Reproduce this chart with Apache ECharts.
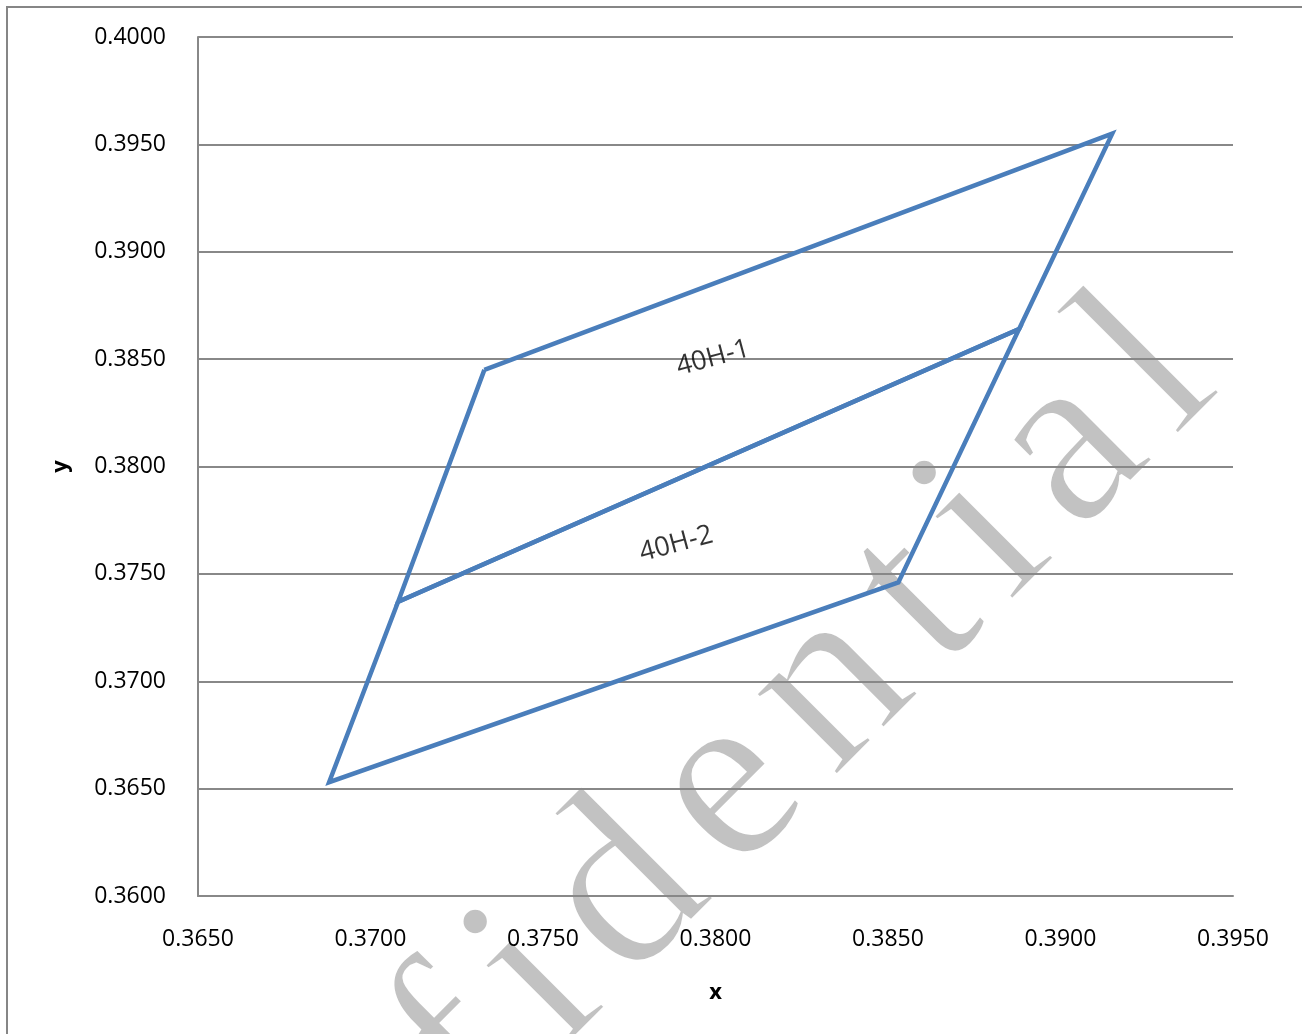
<!DOCTYPE html>
<html><head><meta charset="utf-8">
<script src="https://cdn.jsdelivr.net/npm/echarts@6/dist/echarts.min.js"></script>
<style>html,body{margin:0;padding:0;background:#fff}#c{width:1302px;height:1034px}</style>
</head><body><div id="c"></div>
<script>
const series1Name = '40H-1';
const series1X = [0.3733, 0.3915, 0.3888, 0.3708, 0.3733];
const series1Y = [0.3845, 0.3955, 0.3864, 0.3737, 0.3845];
const series2Name = '40H-2';
const series2X = [0.3708, 0.3888, 0.3853, 0.3688, 0.3708];
const series2Y = [0.3737, 0.3864, 0.3746, 0.3653, 0.3737];
const labelNames = ['40H-1', '40H-2'];
const labelX = [0.37993, 0.37886];
const labelY = [0.38505, 0.37639];
const xTicks = [0.3650, 0.3700, 0.3750, 0.3800, 0.3850, 0.3900, 0.3950];
const yTicks = [0.3600, 0.3650, 0.3700, 0.3750, 0.3800, 0.3850, 0.3900, 0.3950, 0.4000];
const watermark = 'Confidential';

const chart = echarts.init(document.getElementById('c'), null, {renderer: 'canvas'});
const pair = (xs, ys) => xs.map((x, i) => [x, ys[i]]);
const FONT = 'Open Sans';
const lineColor = '#4a7ebb';
const gridColor = '#888888';

// watermark layout: letters spaced along a 45° baseline
const WM_SIZE = 250, WM_SPACING = 27;
const WM_FONT = WM_SIZE + 'px "Liberation Serif"';
const mctx = document.createElement('canvas').getContext('2d');
mctx.font = WM_FONT;
const offs = [];
let acc = 0;
for (const ch of watermark) { offs.push(acc); acc += mctx.measureText(ch).width + WM_SPACING; }
const anchor = offs[4];
const letterY = -0.305 * WM_SIZE;
const fillLetters = [...watermark].map((ch, k) => ({
  type: 'text', z: 1, x: offs[k] - anchor, y: letterY,
  style: {text: ch, font: WM_FONT, fill: '#c2c2c2', align: 'left', verticalAlign: 'middle'}
}));
const erodeLetters = [...watermark].map((ch, k) => ({
  type: 'text', z: 2, x: offs[k] - anchor, y: letterY,
  style: {text: ch, font: WM_FONT, fill: 'none', stroke: '#ffffff', lineWidth: 3,
          align: 'left', verticalAlign: 'middle'}
}));

chart.setOption({
  animation: false,
  backgroundColor: '#ffffff',
  grid: {left: 198, top: 37, right: 69, bottom: 138, containLabel: false},
  xAxis: {
    type: 'value', min: xTicks[0], max: xTicks[xTicks.length - 1], interval: 0.005, z: 5,
    name: 'x', nameLocation: 'middle', nameGap: 86,
    nameTextStyle: {fontFamily: FONT, fontSize: 22, fontWeight: 'bold', color: '#000'},
    axisLine: {show: true, lineStyle: {color: gridColor, width: 2}},
    axisTick: {show: false},
    splitLine: {show: false},
    axisLabel: {fontFamily: FONT, fontSize: 23, color: '#000', margin: 32, formatter: v => v.toFixed(4)}
  },
  yAxis: {
    type: 'value', min: yTicks[0], max: yTicks[yTicks.length - 1], interval: 0.005, z: 5,
    name: 'y', nameLocation: 'middle', nameGap: 126, nameRotate: 90,
    nameTextStyle: {fontFamily: FONT, fontSize: 22, fontWeight: 'bold', color: '#000'},
    axisLine: {show: true, lineStyle: {color: gridColor, width: 2}},
    axisTick: {show: false},
    splitLine: {show: true, lineStyle: {color: gridColor, width: 2}},
    axisLabel: {fontFamily: FONT, fontSize: 23, color: '#000', margin: 32, formatter: v => v.toFixed(4)}
  },
  graphic: {
    z: 1,
    elements: [
      {type: 'rect', z: 1, shape: {x: 7, y: 7, width: 1400, height: 1100},
       style: {fill: 'none', stroke: '#868686', lineWidth: 2}},
      {type: 'group', x: 567, y: 1060, rotation: Math.PI / 4,
       children: fillLetters.concat(erodeLetters)}
    ]
  },
  series: [
    {name: series1Name, type: 'line', z: 6, data: pair(series1X, series1Y), symbol: 'none',
     lineStyle: {color: lineColor, width: 4.5, join: 'miter'}},
    {name: series2Name, type: 'line', z: 6, data: pair(series2X, series2Y), symbol: 'none',
     lineStyle: {color: lineColor, width: 4.5, join: 'miter'}},
    {type: 'scatter', z: 7, symbolSize: 0,
     data: labelNames.map((n, i) => ({name: n, value: [labelX[i], labelY[i]]})),
     label: {show: true, position: 'inside', rotate: 15, formatter: p => p.name,
             fontFamily: FONT, fontSize: 27, color: '#000'}}
  ]
});
</script></body></html>
